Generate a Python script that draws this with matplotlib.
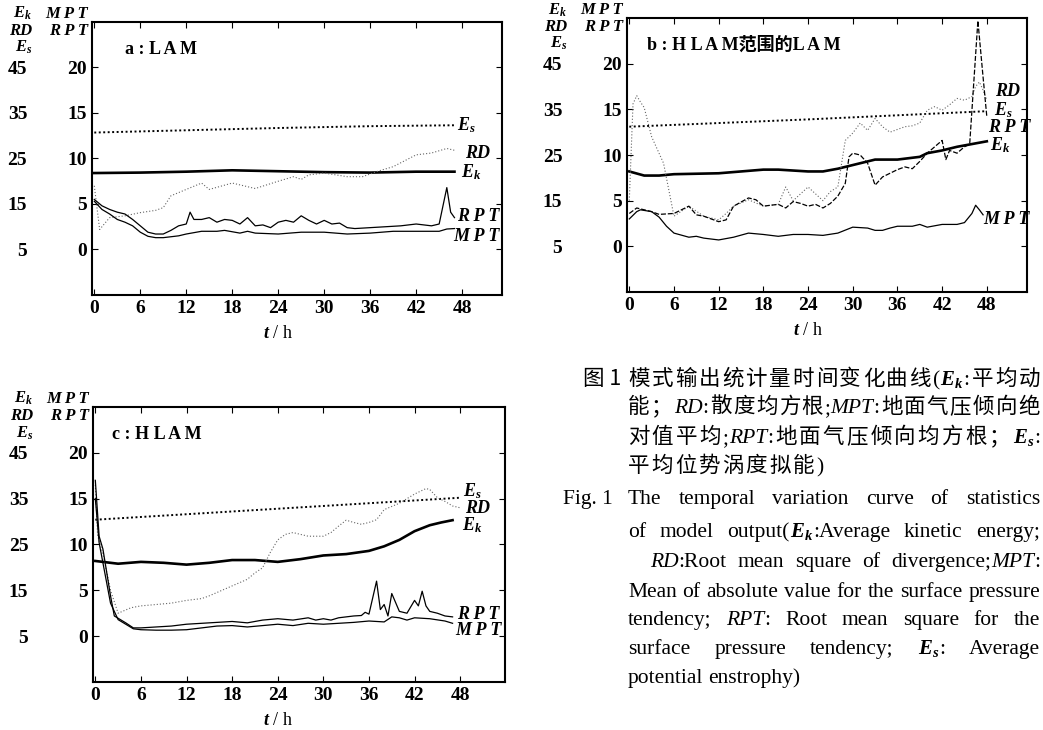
import matplotlib.pyplot as plt
import numpy as np

plt.rcParams['font.family'] = ['Liberation Serif', 'Noto Sans CJK SC']
plt.rcParams['font.weight'] = 'bold'
plt.rcParams['mathtext.fontset'] = 'custom'
plt.rcParams['mathtext.it'] = 'Liberation Serif:italic:bold'
plt.rcParams['mathtext.rm'] = 'Liberation Serif:bold'
plt.rcParams['mathtext.bf'] = 'Liberation Serif:bold'

# shared axes
hours = [0, 6, 12, 18, 24, 30, 36, 42, 48]
right_ticks = [0, 5, 10, 15, 20]     # MPT, RPT scale
left_ticks = [5, 15, 25, 35, 45]     # Ek, RD, Es scale

# ---- a : LAM ----   (Ek, RD, Es in left-scale units; MPT, RPT in right-scale units)
a_es_t = [0, 12, 24, 36, 47]
a_es = [30.7, 31.2, 31.7, 32.1, 32.3]
a_ek_t = [0, 6, 12, 18, 24, 30, 36, 42, 47]
a_ek = [21.8, 21.9, 22.1, 22.4, 22.2, 22.0, 21.9, 22.1, 22.1]
a_rd_t = [0, 0.7, 2, 4, 6, 8, 9, 10, 12, 14, 15, 18, 21, 24, 26, 27, 28, 30, 33, 35, 37, 39, 42, 44, 46, 47]
a_rd = [19.0, 9.4, 12.0, 12.4, 13.1, 13.6, 14.2, 16.8, 18.2, 19.6, 18.2, 19.6, 18.4, 20.0, 21.0, 20.4,
        21.4, 21.8, 21.0, 21.0, 22.2, 23.2, 25.8, 26.2, 27.2, 26.8]
a_rpt_t = [0, 1, 2, 3, 4, 5, 6, 7, 8, 9, 10, 11, 12, 12.5, 13, 14, 15, 16, 17, 18, 19, 20, 21, 22, 23,
           24, 25, 26, 27, 28, 29, 30, 31, 32, 33, 34, 36, 38, 40, 42, 44, 45, 46, 46.5, 47]
a_rpt = [5.5, 4.8, 4.4, 4.1, 3.9, 3.3, 2.6, 1.9, 1.7, 1.7, 2.1, 2.6, 2.8, 4.1, 3.3, 3.3, 3.5, 3.0, 3.3,
         3.2, 2.8, 3.5, 2.6, 2.7, 2.4, 3.0, 3.2, 3.0, 3.7, 3.2, 2.8, 3.2, 2.8, 2.9, 2.4, 2.3, 2.4, 2.5,
         2.6, 2.8, 2.6, 2.8, 6.8, 4.1, 3.5]
a_mpt_t = [0, 1, 2, 3, 4, 5, 6, 7, 8, 9, 10, 11, 12, 14, 16, 17, 19, 20, 21, 24, 27, 30, 33, 36, 39,
           42, 45, 46, 47]
a_mpt = [5.3, 4.4, 3.9, 3.3, 3.0, 2.6, 1.9, 1.45, 1.3, 1.3, 1.4, 1.5, 1.7, 2.0, 2.0, 2.1, 1.8, 2.0,
         1.8, 1.7, 1.9, 1.9, 1.7, 1.8, 2.0, 2.0, 2.0, 2.25, 2.3]

# ---- b : LAM over the HLAM domain ----
b_es_t = [0, 12, 24, 36, 48]
b_es = [31.2, 32.0, 32.8, 33.7, 34.6]
b_ek_t = [0, 2, 4, 6, 12, 18, 20, 24, 26, 28, 30, 33, 36, 39, 40, 42, 44, 46, 48]
b_ek = [21.4, 20.5, 20.5, 20.8, 21.0, 21.8, 21.8, 21.4, 21.4, 22.0, 22.8, 24.0, 24.0, 24.6, 25.4,
        26.0, 26.8, 27.4, 28.0]
b_rd_t = [0, 0.5, 1, 1.5, 2, 3, 4.6, 6, 8, 10, 12, 13, 14, 16, 18, 20, 21, 22, 24, 26, 27, 28, 29,
          30, 31, 32, 33, 34, 35, 36, 37, 38, 39, 40, 41, 42, 43, 44, 45, 46, 46.5, 47, 47.5, 48]
b_rd = [15.0, 36.2, 38.0, 36.6, 35.4, 29.0, 23.2, 11.6, 13.8, 11.6, 10.8, 12.2, 13.8, 15.2, 13.8,
        14.2, 18.0, 15.0, 18.0, 15.0, 17.0, 18.0, 28.2, 29.8, 32.0, 30.4, 33.0, 31.2, 30.0, 30.6,
        31.2, 31.4, 32.0, 34.8, 35.6, 34.8, 36.0, 37.4, 37.0, 37.8, 40.0, 41.0, 39.2, 37.0]
b_rpt_t = [0, 1, 2, 3, 4, 6, 8, 9, 10, 12, 13, 14, 16, 17, 18, 20, 21, 22, 23, 24, 25, 26, 27, 28,
           29, 29.5, 30, 31, 32, 33, 34, 35, 36, 37, 38, 39, 40, 41, 42, 42.5, 43, 44, 45, 45.7,
           46.8, 47.5, 48]
b_rpt = [3.6, 4.2, 4.0, 3.8, 3.5, 3.6, 4.4, 3.45, 3.3, 2.7, 2.9, 4.4, 5.3, 5.1, 4.4, 4.6, 4.2, 4.9,
         4.7, 4.4, 4.6, 4.2, 4.7, 5.5, 6.9, 9.8, 10.2, 10.0, 9.1, 6.7, 7.6, 8.0, 8.4, 8.7, 8.5, 9.3,
         10.2, 10.9, 11.6, 9.5, 10.5, 10.2, 10.9, 11.2, 24.7, 18.5, 14.2]
b_mpt_t = [0, 1, 1.5, 3, 4, 5, 6, 8, 9, 10, 12, 14, 16, 18, 20, 22, 24, 26, 28, 30, 32, 33, 34, 35,
           36, 38, 39, 40, 42, 44, 45, 46, 46.5, 47, 47.5]
b_mpt = [3.0, 3.8, 4.0, 3.8, 3.2, 2.2, 1.45, 1.0, 1.1, 0.9, 0.7, 1.0, 1.45, 1.3, 1.1, 1.3, 1.3, 1.2,
         1.45, 2.1, 2.0, 1.75, 1.75, 2.0, 2.2, 2.2, 2.4, 2.1, 2.4, 2.4, 2.6, 3.6, 4.5, 4.0, 3.45]

# ---- c : HLAM ----
c_es_t = [0, 12, 24, 36, 48]
c_es = [30.4, 31.6, 32.8, 34.0, 35.2]
c_ek_t = [0, 3, 6, 9, 12, 15, 18, 21, 24, 27, 30, 33, 36, 38, 40, 42, 44, 45.5, 47]
c_ek = [21.4, 20.8, 21.2, 21.0, 20.6, 21.0, 21.6, 21.6, 21.2, 21.8, 22.6, 22.9, 23.6, 24.6, 26.0,
        27.9, 29.2, 29.8, 30.3]
c_rd_t = [0, 0.3, 1, 2, 3, 4.7, 6, 8, 10, 12, 14, 15, 20, 21, 22, 23, 24, 25, 26, 28, 30, 31, 32,
          33, 34, 35, 36, 37, 38, 40, 42, 43.5, 44, 45, 46, 47, 48]
c_rd = [38.0, 27.0, 23.0, 15.0, 10.0, 11.2, 11.6, 11.9, 12.2, 12.8, 13.2, 13.8, 17.4, 18.8, 19.9,
        23.2, 26.0, 27.2, 27.6, 26.8, 26.8, 27.6, 29.0, 30.3, 29.8, 29.4, 29.8, 30.4, 32.6, 34.0,
        36.0, 37.2, 37.0, 35.2, 34.4, 33.4, 33.0]
c_rpt_t = [0, 0.5, 1, 2, 2.5, 4, 5, 6, 8, 10, 12, 14, 16, 18, 20, 22, 24, 26, 28, 29, 30, 31, 32,
           34, 35, 35.5, 36, 37, 37.5, 38, 38.5, 39, 40, 41, 42, 42.5, 43, 43.5, 44, 45, 46, 47]
c_rpt = [17.0, 10.9, 9.5, 4.4, 2.2, 1.45, 0.9, 0.9, 1.0, 1.1, 1.3, 1.4, 1.5, 1.6, 1.45, 1.75, 1.9,
         1.75, 2.0, 1.75, 1.9, 1.75, 2.0, 2.2, 2.25, 2.6, 2.4, 6.0, 2.9, 3.45, 2.2, 4.65, 2.7, 2.5,
         3.9, 3.3, 4.9, 3.3, 2.7, 2.5, 2.2, 2.1]
c_mpt_t = [0, 0.5, 1, 2, 3, 5, 6, 8, 10, 12, 14, 16, 18, 20, 22, 24, 26, 28, 30, 32, 34, 36, 38, 39,
           40, 41, 42, 44, 46, 47]
c_mpt = [15.0, 10.2, 8.0, 3.6, 1.8, 0.8, 0.7, 0.65, 0.65, 0.7, 0.9, 1.1, 1.15, 1.0, 1.15, 1.3, 1.15,
         1.4, 1.3, 1.4, 1.5, 1.65, 1.55, 2.1, 2.0, 1.75, 2.0, 1.9, 1.65, 1.4]


def to_right(e):
    # left scale (5..45) -> right scale (0..20)
    return (np.asarray(e) - 5) / 2


def draw(ax, title, title_x, es, ek, rd, rpt, mpt, tags, xmax, rpt_ls='-'):
    ax.plot(es[0], to_right(es[1]), color='k', lw=1.4, ls=(0, (1, 1.3)))
    ax.plot(ek[0], to_right(ek[1]), color='k', lw=1.9)
    ax.plot(rd[0], to_right(rd[1]), color='0.4', lw=0.8, ls=(0, (1, 1.8)))
    ax.plot(rpt[0], rpt[1], color='k', lw=0.9, ls=rpt_ls)
    ax.plot(mpt[0], mpt[1], color='k', lw=0.9)
    ax.set_xlim(-0.3, xmax)
    ax.set_ylim(-5, 25)
    ax.set_xticks(hours)
    ax.set_yticks(right_ticks)
    ax.tick_params(direction='in', top=True, right=True, labelsize=14, length=4)
    for s in ax.spines.values():
        s.set_linewidth(1.5)

    wpx = ax.get_position().width * 1043
    sec = ax.secondary_yaxis(-62 / wpx, functions=(lambda v: 2 * v + 5, lambda e: (e - 5) / 2))
    sec.set_yticks(left_ticks)
    sec.tick_params(length=0, labelsize=14, pad=2)
    for s in sec.spines.values():
        s.set_visible(False)

    # column headers for the two scales
    hx = -60 / wpx
    rows = [1.03, 0.968, 0.906]
    ax.text(hx, rows[0], '$E_k$', transform=ax.transAxes, ha='right', va='center', fontsize=12)
    ax.text(hx, rows[1], 'RD', transform=ax.transAxes, ha='right', va='center', fontsize=12,
            style='italic')
    ax.text(hx, rows[2], '$E_s$', transform=ax.transAxes, ha='right', va='center', fontsize=12)
    ax.text(-0.01, rows[0], 'M P T', transform=ax.transAxes, ha='right', va='center', fontsize=12,
            style='italic')
    ax.text(-0.01, rows[1], 'R P T', transform=ax.transAxes, ha='right', va='center', fontsize=12,
            style='italic')

    ax.text(title_x, 0.9, title, transform=ax.transAxes, va='center', fontsize=13)
    for s, x, y in tags:
        ax.text(x, y, s, ha='left', va='center', fontsize=13, style='italic')

    ax.set_xlabel('$t$ / h', fontsize=13)
    ax.xaxis.set_label_coords((24 + 0.3) / (xmax + 0.3), -0.11)


fig = plt.figure(figsize=(10.43, 7.3), dpi=100)
ax_a = fig.add_axes([0.0882, 0.5959, 0.3931, 0.374])
ax_b = fig.add_axes([0.6012, 0.6, 0.3835, 0.3753])
ax_c = fig.add_axes([0.0892, 0.0658, 0.395, 0.3767])

draw(ax_a, 'a : L A M', 0.08, (a_es_t, a_es), (a_ek_t, a_ek), (a_rd_t, a_rd), (a_rpt_t, a_rpt),
     (a_mpt_t, a_mpt),
     [('$E_s$', 47.3, 13.7), ('RD', 48.4, 10.6), ('$E_k$', 47.8, 8.5), ('R P T', 47.3, 3.6),
      ('M P T', 46.9, 1.4)], 53.2)
draw(ax_b, 'b : H L A M范围的L A M', 0.05, (b_es_t, b_es), (b_ek_t, b_ek), (b_rd_t, b_rd),
     (b_rpt_t, b_rpt), (b_mpt_t, b_mpt),
     [('RD', 49.1, 17.0), ('$E_s$', 48.9, 14.9), ('R P T', 48.2, 13.0), ('$E_k$', 48.4, 11.1),
      ('M P T', 47.5, 2.9)], 53.4, rpt_ls=(0, (4, 1.5)))
draw(ax_c, 'c : H L A M', 0.046, (c_es_t, c_es), (c_ek_t, c_ek), (c_rd_t, c_rd), (c_rpt_t, c_rpt),
     (c_mpt_t, c_mpt),
     [('$E_s$', 48.4, 15.8), ('RD', 48.7, 13.9), ('$E_k$', 48.2, 12.1), ('R P T', 47.6, 2.4),
      ('M P T', 47.4, 0.6)], 53.9)

# ---- caption, justified line by line ----
W, H = 1043, 730
STY = {
    'zh': dict(family=['Noto Sans CJK SC', 'DejaVu Sans'], fontsize=15.5, weight='normal'),
    'en': dict(family=['Liberation Serif'], fontsize=15.5, weight='normal'),
    'it': dict(family=['Liberation Serif'], fontsize=15.5, weight='normal', style='italic'),
    'm': dict(fontsize=15),
}
renderer = fig.canvas.get_renderer()


def zh(s):
    return [[(c, 'zh')] for c in s]


def en(s):
    return [[(w, 'en')] for w in s.split()]


def put_line(words, y, x0, x1=None, gap=4):
    arts = [[fig.text(0, 1 - y / H, s, va='baseline', **STY[k]) for s, k in w] for w in words]
    widths = [[a.get_window_extent(renderer).width for a in w] for w in arts]
    if x1 is not None:
        gap = (x1 - x0 - sum(map(sum, widths))) / (len(arts) - 1)
    x = x0
    for w, ws in zip(arts, widths):
        for a, wd in zip(w, ws):
            a.set_x(x / W)
            x += wd
        x += gap


put_line([[('图 1', 'zh')]], 385, 583)
put_line(zh('模式输出统计量时间变化曲线') + [[('(', 'en'), ('$E_k$', 'm'), (':', 'en')]] + zh('平均动'),
         385, 628, 1040)
put_line(zh('能；') + [[('RD', 'it'), (':', 'en')]] + zh('散度均方根')
         + [[(';', 'en'), ('MPT', 'it'), (':', 'en')]] + zh('地面气压倾向绝'), 413, 628, 1040)
put_line(zh('对值平均') + [[(';', 'en'), ('RPT', 'it'), (':', 'en')]] + zh('地面气压倾向均方根；')
         + [[('$E_s$', 'm'), (':', 'en')]], 443, 628, 1040)
put_line(zh('平均位势涡度拟能') + [[(')', 'en')]], 472, 628, gap=2)

put_line([[('Fig. 1', 'en')]], 504, 563)
put_line(en('The temporal variation curve of statistics'), 504, 628, 1040)
put_line(en('of model') + [[('output(', 'en'), ('$E_k$', 'm'), (':Average', 'en')]]
         + en('kinetic energy;'), 537, 628, 1040)
put_line([[('RD', 'it'), (':Root', 'en')]] + en('mean square of')
         + [[('divergence;', 'en'), ('MPT', 'it'), (':', 'en')]], 567, 650, 1040)
put_line(en('Mean of absolute value for the surface pressure'), 597, 628, 1040)
put_line(en('tendency;') + [[('RPT', 'it'), (':', 'en')]] + en('Root mean square for the'),
         625, 628, 1040)
put_line(en('surface pressure tendency;') + [[('$E_s$', 'm'), (':', 'en')]] + en('Average'),
         654, 628, 1040)
put_line(en('potential enstrophy)'), 683, 628, gap=5)

fig.savefig('out.png', dpi=100)
